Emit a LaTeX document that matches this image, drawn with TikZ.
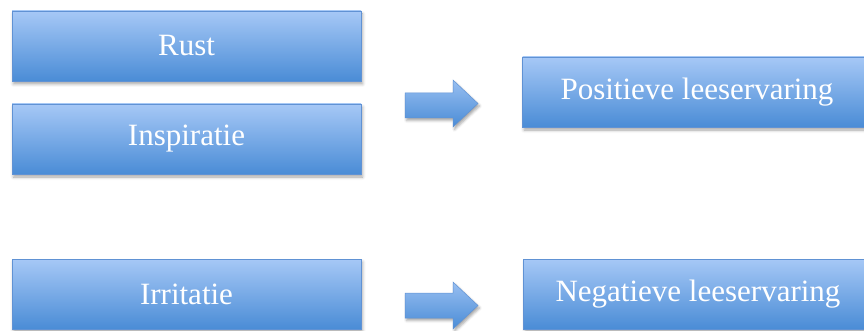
\documentclass[tikz,border=0pt]{standalone}
\usepackage{fontspec}
\setmainfont{Liberation Serif}
\usetikzlibrary{shadows.blur}
\definecolor{boxtop}{RGB}{166,200,246}
\definecolor{boxbot}{RGB}{74,140,214}
\definecolor{boxedge}{RGB}{96,146,212}
\tikzset{
  box/.style={rectangle, draw=boxedge, line width=0.6pt, top color=boxtop, bottom color=boxbot,
    minimum width=349pt, minimum height=70pt, inner sep=0pt, text=white,
    font=\fontsize{31}{36}\selectfont,
    blur shadow={shadow xshift=1.5pt, shadow yshift=-3pt, shadow blur radius=3pt, shadow opacity=35}},
  blockarrow/.style={draw=boxedge, line width=0.5pt, top color=boxtop!85!boxbot, bottom color=boxbot,
    blur shadow={shadow xshift=1.5pt, shadow yshift=-2.5pt, shadow blur radius=2.5pt, shadow opacity=35}}
}
\begin{document}
\begin{tikzpicture}[x=1pt,y=-1pt]
\useasboundingbox (0,0) rectangle (864,331);
\node[box] (rust) at (186.5,46) {Rust};
\node[box] (insp) at (186.5,139) {Inspiratie};
\node[box] (pos) at (697,92) {Positieve leeservaring};
\node[box] (irr) at (186.5,294) {Irritatie};
\node[box] (neg) at (698,294) {Negatieve leeservaring};
\path[blockarrow] (405,93) -- (453,93) -- (453,80) -- (478,103.5) -- (453,127) -- (453,118) -- (405,118) -- cycle;
\path[blockarrow] (405,293) -- (453,293) -- (453,282) -- (478,305.5) -- (453,329) -- (453,318) -- (405,318) -- cycle;
\end{tikzpicture}
\end{document}
